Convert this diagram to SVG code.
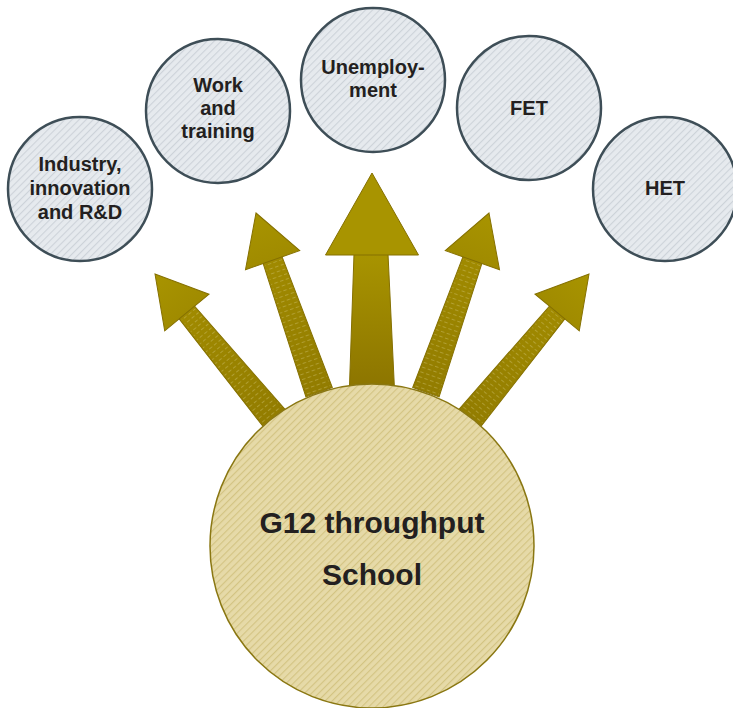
<svg xmlns="http://www.w3.org/2000/svg" width="733" height="708" viewBox="0 0 733 708">
  <style>
    .small { fill: url(#hatchGray); stroke: #3e4e57; stroke-width: 2.5; }
    .big { fill: url(#hatchGold); stroke: #8a7712; stroke-width: 1.5; }
    .lbl { font-family: "Liberation Sans", Arial, sans-serif; font-weight: bold; font-size: 20px; fill: #231f20; text-anchor: middle; }
    .main { font-family: "Liberation Sans", Arial, sans-serif; font-weight: bold; font-size: 30px; fill: #231f20; text-anchor: middle; }
    .shaft { fill: url(#shaftGrad); stroke: #857000; stroke-width: 1; }
    .stripes { fill: url(#stripes); stroke: none; }
    .head { fill: url(#headGrad); stroke: #857000; stroke-width: 1; stroke-linejoin: miter; }
  </style>
  <defs>
    <pattern id="hatchGray" patternUnits="userSpaceOnUse" width="5" height="5" patternTransform="rotate(45)">
      <rect width="5" height="5" fill="#e6eaee"/>
      <line x1="0.5" y1="0" x2="0.5" y2="5" stroke="#cdd3d9" stroke-width="1.2"/>
    </pattern>
    <pattern id="hatchGold" patternUnits="userSpaceOnUse" width="5" height="5" patternTransform="rotate(45)">
      <rect width="5" height="5" fill="#e6daa8"/>
      <line x1="0.5" y1="0" x2="0.5" y2="5" stroke="#d3c483" stroke-width="1.3"/>
    </pattern>
    <pattern id="stripes" patternUnits="userSpaceOnUse" width="6" height="5">
      <line x1="0" y1="2.5" x2="6" y2="2.5" stroke="#d4c878" stroke-width="0.7" stroke-dasharray="3.5 2.5" opacity="0.6"/>
    </pattern>
    <linearGradient id="shaftGrad" x1="0" y1="0" x2="0" y2="1">
      <stop offset="0" stop-color="#a08a00"/>
      <stop offset="1" stop-color="#927c00"/>
    </linearGradient>
    <linearGradient id="headGrad" x1="0" y1="0" x2="0" y2="1">
      <stop offset="0" stop-color="#a89400"/>
      <stop offset="1" stop-color="#a08b00"/>
    </linearGradient>
    <linearGradient id="centerGrad" x1="0" y1="0" x2="0" y2="1">
      <stop offset="0" stop-color="#a89400"/>
      <stop offset="1" stop-color="#8a7200"/>
    </linearGradient>
    <g id="sideArrow">
      <path class="shaft" d="M-10,49 L10,49 L14,190 L-14,190 Z"/>
      <path class="stripes" d="M-9,52 L9,52 L13,190 L-13,190 Z"/>
      <path class="head" d="M0,0 L28.75,50 L-28.75,50 Z"/>
    </g>
  </defs>

  <rect width="733" height="708" fill="#ffffff"/>

  <g id="connectors">
    <use id="arrow-industry" href="#sideArrow" transform="translate(155,274) rotate(-39.6)"/>
    <use id="arrow-work" href="#sideArrow" transform="translate(256,213) rotate(-19.4)"/>
    <g id="arrow-unemployment">
      <path d="M354,254 L388,254 L395,400 L349,400 Z" fill="url(#centerGrad)" stroke="#857000" stroke-width="1"/>
      <path d="M372,173 L418.5,255 L325.5,255 Z" fill="#a89400" stroke="#857000" stroke-width="1"/>
    </g>
    <use id="arrow-fet" href="#sideArrow" transform="translate(489,213) rotate(19.4)"/>
    <use id="arrow-het" href="#sideArrow" transform="translate(589,274) rotate(39.6)"/>
  </g>

  <g id="node-school">
    <circle class="big" cx="372" cy="546" r="162"/>
    <text class="main" x="372" y="533">G12 throughput</text>
    <text class="main" x="372" y="585">School</text>
  </g>

  <g id="node-industry">
    <circle class="small" cx="80" cy="189" r="72"/>
    <text class="lbl" x="80" y="171">Industry,</text>
    <text class="lbl" x="80" y="195">innovation</text>
    <text class="lbl" x="80" y="219">and R&amp;D</text>
  </g>

  <g id="node-work">
    <circle class="small" cx="218" cy="111" r="72"/>
    <text class="lbl" x="218" y="92">Work</text>
    <text class="lbl" x="218" y="115">and</text>
    <text class="lbl" x="218" y="138">training</text>
  </g>

  <g id="node-unemployment">
    <circle class="small" cx="373" cy="80" r="72"/>
    <text class="lbl" x="373" y="74">Unemploy-</text>
    <text class="lbl" x="373" y="97">ment</text>
  </g>

  <g id="node-fet">
    <circle class="small" cx="529" cy="108" r="72"/>
    <text class="lbl" x="529" y="115">FET</text>
  </g>

  <g id="node-het">
    <circle class="small" cx="665" cy="189" r="72"/>
    <text class="lbl" x="665" y="195">HET</text>
  </g>
</svg>
